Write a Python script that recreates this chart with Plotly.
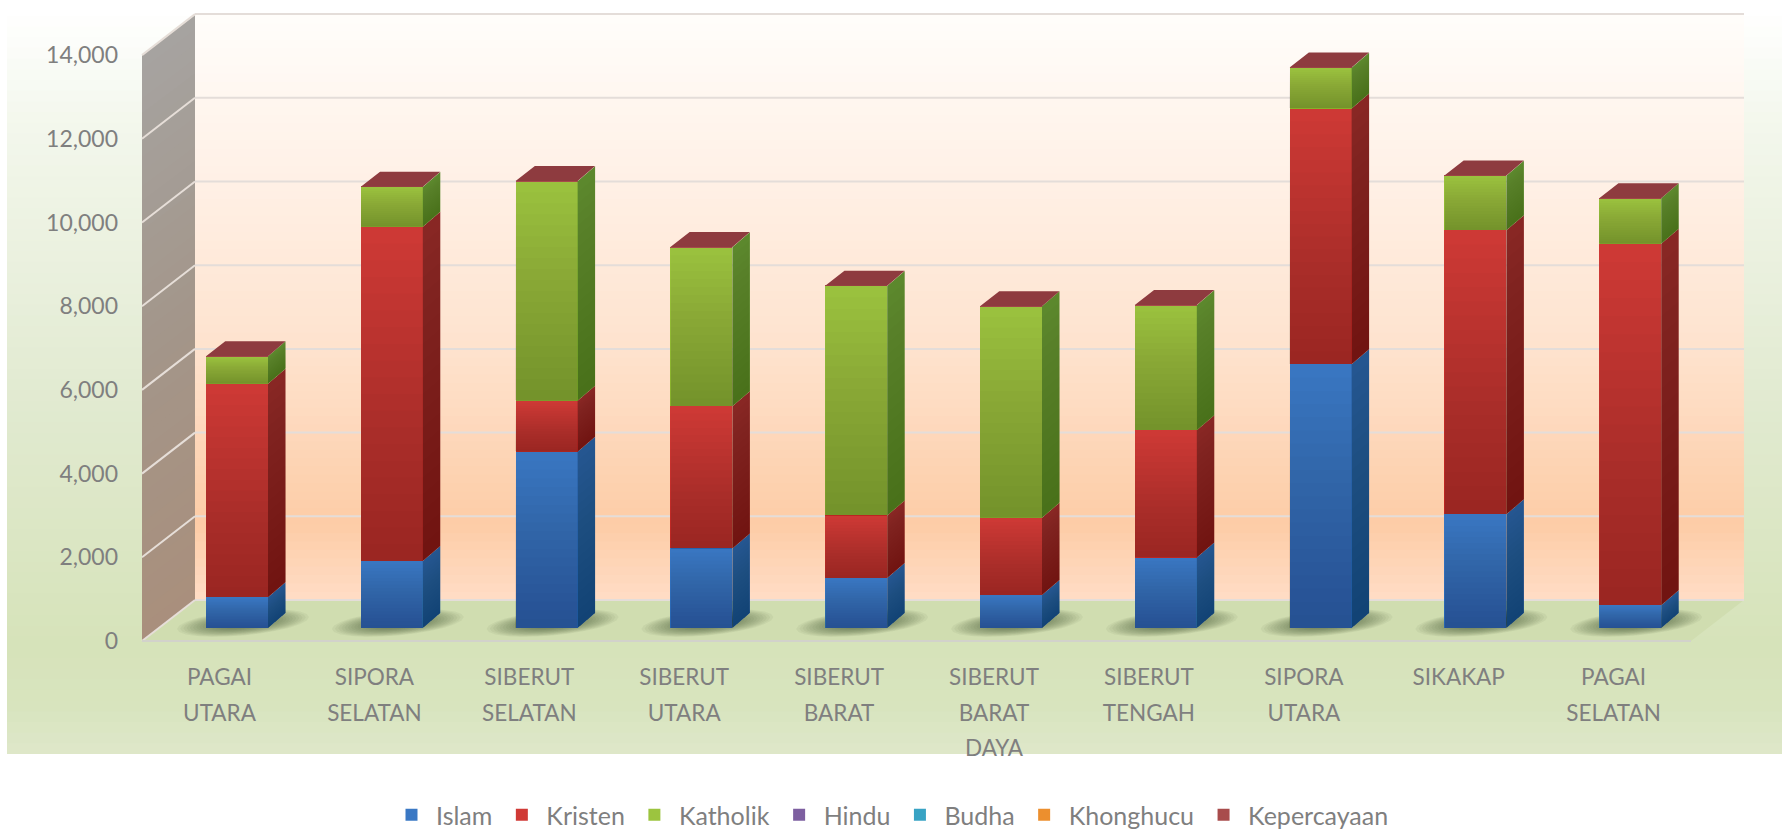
import math
import plotly.graph_objects as go

W, H = 1782, 830

categories = ["PAGAI<br>UTARA", "SIPORA<br>SELATAN", "SIBERUT<br>SELATAN", "SIBERUT<br>UTARA", "SIBERUT<br>BARAT",
              "SIBERUT<br>BARAT<br>DAYA", "SIBERUT<br>TENGAH", "SIPORA<br>UTARA", "SIKAKAP", "PAGAI<br>SELATAN"]
islam = [733, 1602, 4210, 1901, 1195, 788, 1684, 6301, 2716, 543]
kristen = [5106, 7985, 1222, 3395, 1494, 1846, 3042, 6111, 6790, 8637]
katholik = [652, 951, 5242, 3802, 5486, 5052, 2987, 977, 1303, 1086]
hindu = [0, 0, 0, 0, 0, 0, 0, 0, 0, 0]
budha = [0, 0, 0, 0, 0, 0, 0, 0, 0, 0]
khonghucu = [0, 0, 0, 0, 0, 0, 0, 0, 0, 0]
kepercayaan = [4, 6, 5, 4, 3, 3, 3, 6, 5, 4]
y_ticks = [0, 2000, 4000, 6000, 8000, 10000, 12000, 14000]

series = [("Islam", islam, "#3a78c4", "#265792"),
          ("Kristen", kristen, "#d03a36", "#8a2825"),
          ("Katholik", katholik, "#9cc43f", "#5d8a2e"),
          ("Hindu", hindu, "#7d5fa0", "#543f6e"),
          ("Budha", budha, "#38a3c4", "#256f87"),
          ("Khonghucu", khonghucu, "#ec8f2e", "#a8641e"),
          ("Kepercayaan", kepercayaan, "#a84c4c", "#7c3636")]

# picture geometry in pixels
PX_PER_UNIT = 0.04185
BAR_ZERO, FRONT_ZERO, BACK_ZERO = 628, 641, 600
BAR_X0, BAR_PITCH, BAR_W = 237, 154.8, 62
WALL_L, WALL_R, FRONT_L, FRONT_R = 195, 1744, 142, 1691
DX = 17.5 / BAR_PITCH
DY = 15 / PX_PER_UNIT
HALF = BAR_W / BAR_PITCH / 2


def px(x):
    return x / W


def py(y):
    return 1 - y / H


def mix(stops, y):
    for (y0, c0), (y1, c1) in zip(stops, stops[1:]):
        if y <= y1:
            t = (y - y0) / (y1 - y0)
            rgb = [round(a + (b - a) * t) for a, b in zip(c0, c1)]
            return f"rgb({rgb[0]},{rgb[1]},{rgb[2]})"
    return f"rgb{stops[-1][1]}"


def poly(points):
    return "M" + " L".join(f"{a},{b}" for a, b in points) + " Z"


shapes = []


def paper_shape(points, color, line=None):
    shapes.append(dict(type="path", xref="paper", yref="paper", layer="below", fillcolor=color,
                       line=line or dict(width=0), path=poly([(px(a), py(b)) for a, b in points])))


def paper_line(x0, y0, x1, y1, color, width=2):
    shapes.append(dict(type="line", xref="paper", yref="paper", layer="below",
                       x0=px(x0), y0=py(y0), x1=px(x1), y1=py(y1), line=dict(color=color, width=width)))


# outer green panel
panel = [(5, (255, 255, 255)), (120, (243, 247, 236)), (400, (225, 234, 208)), (640, (214, 227, 186)), (700, (216, 228, 190)), (754, (223, 232, 203))]
for k in range(70):
    y = 5 + (754 - 5) * k / 70
    paper_shape([(7, y), (W, y), (W, 754), (7, 754)], mix(panel, y))

# back wall
wall = [(15, (255, 253, 250)), (180, (255, 240, 229)), (350, (254, 226, 205)), (520, (253, 204, 166)), (600, (255, 222, 200))]
for k in range(70):
    y = 15 + (600 - 15) * k / 70
    paper_shape([(WALL_L, y), (WALL_R, y), (WALL_R, 600), (WALL_L, 600)], mix(wall, y))

# left wall
side_wall = [(15, (166, 163, 160)), (300, (163, 150, 138)), (641, (170, 142, 122))]
for k in range(40):
    y = 15 + (600 - 15) * k / 40
    paper_shape([(FRONT_L, y + 40), (WALL_L, y), (WALL_L, 600), (FRONT_L, 641)], mix(side_wall, y))

# floor
paper_shape([(FRONT_L, FRONT_ZERO), (WALL_L, BACK_ZERO), (WALL_R, BACK_ZERO), (FRONT_R, FRONT_ZERO)], "#d0ddb0")

# gridlines on both walls
for t in y_ticks:
    yb = BACK_ZERO - t * PX_PER_UNIT
    yf = FRONT_ZERO - t * PX_PER_UNIT
    paper_line(WALL_L, yb, WALL_R, yb, "#e4ddd9")
    paper_line(FRONT_L, yf, WALL_L, yb, "#e6ded8")
paper_line(FRONT_L, FRONT_ZERO, FRONT_R, FRONT_ZERO, "#d2d2cb")

# soft floor shadows, nested tilted ellipses around each bar foot
for i in range(len(categories)):
    cx = BAR_X0 + BAR_PITCH * i + 6
    for k in range(16):
        a = 66 - k * 3.2
        b = 12.5 - k * 0.6
        pts = [(cx + a * math.cos(j * math.pi / 12), 623 + b * math.sin(j * math.pi / 12) - 0.09 * a * math.cos(j * math.pi / 12))
               for j in range(24)]
        paper_shape(pts, "rgba(60,66,30,0.055)")

fig = go.Figure()

for name, values, face, _ in series:
    fig.add_trace(go.Bar(x=list(range(len(categories))), y=values, name=name, width=BAR_W / BAR_PITCH,
                         marker=dict(color=face, line=dict(width=0)), xaxis="x", yaxis="y"))

# side faces and dark top faces, taken from the stacked totals
bottoms = [0] * len(categories)
N_STEPS = 20
for name, values, face, side in series[:3]:
    xs, ys = [], []
    for i, v in enumerate(values):
        b, t = bottoms[i], bottoms[i] + v
        r = i + HALF
        xs += [r, r + DX, r + DX, r, r, None]
        ys += [b, b + DY, t + DY, t, b, None]
        for k in range(1, N_STEPS + 1):
            y = t - v * (k - 1) / N_STEPS
            shapes.append(dict(type="rect", xref="x", yref="y", layer="above", fillcolor="#000", opacity=0.0115,
                               line=dict(width=0), x0=i - HALF, x1=r, y0=b, y1=y))
            shapes.append(dict(type="path", xref="x", yref="y", layer="above", fillcolor="#000", opacity=0.007,
                               line=dict(width=0),
                               path=poly([(r, y), (r + DX, y + DY), (r + DX, b + DY), (r, b)])))
        bottoms[i] = t
    fig.add_trace(go.Scatter(x=xs, y=ys, mode="lines", line=dict(width=0), fill="toself", fillcolor=side,
                             showlegend=False, hoverinfo="skip", xaxis="x", yaxis="y"))

xs, ys = [], []
for i, v in enumerate(bottoms):
    t = v + kepercayaan[i]
    l, r = i - HALF, i + HALF
    xs += [l, l + DX * 1.1, r + DX, r, l, None]
    ys += [t, t + DY, t + DY, t, t, None]
fig.add_trace(go.Scatter(x=xs, y=ys, mode="lines", line=dict(width=0), fill="toself", fillcolor="#8e3b3f",
                         showlegend=False, hoverinfo="skip", xaxis="x", yaxis="y"))

# the printed scales belong to the front edge of the box, they need a trace to show up
fig.add_trace(go.Scatter(x=[0], y=[0], mode="none", showlegend=False, hoverinfo="skip", xaxis="x2", yaxis="y2"))

GREY = "#7f7f7f"
FONT = "Lato"
span = '<span style="font-size:22.5px">'
tick_text = [span + c.replace("<br>", "</span><br>" + span) + "</span>" for c in categories]

fig.update_layout(
    width=W, height=H, autosize=False,
    margin=dict(l=0, r=0, t=0, b=0, autoexpand=False),
    paper_bgcolor="white", plot_bgcolor="rgba(0,0,0,0)",
    barmode="stack", bargap=0,
    font=dict(family=FONT, color=GREY),
    shapes=shapes,
    legend=dict(orientation="h", x=px(387), xanchor="left", y=py(792), yanchor="top", traceorder="normal", itemwidth=39,
                font=dict(size=25, color=GREY, family=FONT), bgcolor="rgba(0,0,0,0)"),
    xaxis=dict(domain=[0, 1], range=[-BAR_X0 / BAR_PITCH, (W - BAR_X0) / BAR_PITCH], visible=False, fixedrange=True),
    yaxis=dict(domain=[0, 1], range=[(BAR_ZERO - H) / PX_PER_UNIT, BAR_ZERO / PX_PER_UNIT], visible=False, fixedrange=True),
    xaxis2=dict(overlaying="x", anchor="free", position=py(FRONT_ZERO + 16), side="bottom", fixedrange=True,
                range=[(0 - 219.5) / 154.9, (W - 219.5) / 154.9], tickmode="array",
                tickvals=list(range(len(categories))), ticktext=tick_text, tickangle=0,
                tickfont=dict(size=27.3, color=GREY, family=FONT), showgrid=False, showline=False, ticks="", zeroline=False),
    yaxis2=dict(overlaying="y", anchor="free", position=px(118), side="left", fixedrange=True,
                range=[(FRONT_ZERO - H) / PX_PER_UNIT, FRONT_ZERO / PX_PER_UNIT], tickmode="array",
                tickvals=y_ticks, ticktext=[f"{t:,}" for t in y_ticks],
                tickfont=dict(size=23, color=GREY, family=FONT), showgrid=False, showline=False, ticks="", zeroline=False),
)

fig.write_html("out.html", post_script="document.body.style.margin = '0';", config=dict(displayModeBar=False))
